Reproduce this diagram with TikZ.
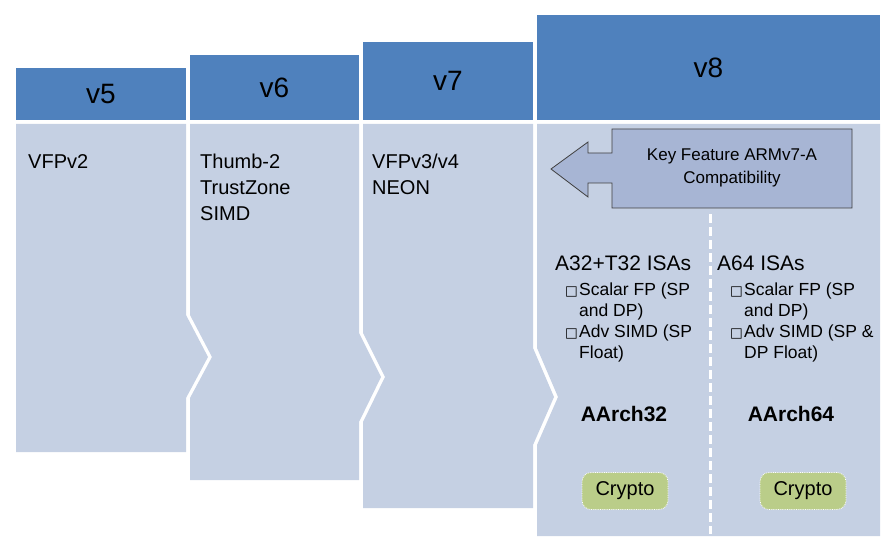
\documentclass[tikz,border=0pt]{standalone}
\usepackage{fontspec}
\setmainfont{Liberation Sans}
\newfontfamily\boxfont{DejaVu Sans}
\usepackage{tikz}
\usetikzlibrary{positioning}
\definecolor{hdrblue}{RGB}{79,129,189}
\definecolor{bodyblue}{RGB}{197,208,227}
\definecolor{arrowblue}{RGB}{167,181,212}
\definecolor{cryptogreen}{RGB}{186,205,137}
\tikzstyle{header}=[fill=hdrblue,inner sep=0pt,font=\fontsize{28}{30}\selectfont]
\tikzstyle{body}=[fill=bodyblue]
\tikzstyle{feature}=[anchor=north west,inner sep=0pt,align=left,font=\fontsize{20}{26}\selectfont]
\tikzset{isa/.style={anchor=north west,inner sep=0pt,font=\fontsize{21}{25}\selectfont},
  bullets/.style={anchor=north west,inner sep=0pt,align=left,font=\fontsize{17.5}{21}\selectfont},
  arch/.style={inner sep=0pt,font=\bfseries\fontsize{21}{25}\selectfont},
  crypto/.style={fill=cryptogreen,draw=white,densely dotted,line width=0.8pt,rounded corners=9pt,
    minimum width=86,minimum height=37,inner sep=0pt,font=\fontsize{20}{24}\selectfont}}
\newcommand{\sqbox}{\makebox[14pt][l]{\boxfont\fontsize{13.5}{13.5}\selectfont □}}

\begin{document}
\begin{tikzpicture}[x=1pt,y=-1pt]
    \useasboundingbox (0,0) rectangle (889,545);

    % 1. Column bodies, each one with its chevron
    \fill[body] (16,124) -- (186,124) -- (186,315) -- (208,357) -- (186,398) -- (186,452) -- (16,452) -- cycle;
    \fill[body] (190,124) -- (359,124) -- (359,333) -- (381,377) -- (359,422) -- (359,480)
      -- (190,480) -- (190,398) -- (212,357) -- (190,315) -- cycle;
    \fill[body] (363,124) -- (533,124) -- (533,348) -- (554,397) -- (533,445) -- (533,508)
      -- (363,508) -- (363,422) -- (385,377) -- (363,333) -- cycle;
    \fill[body] (537,124) -- (880,124) -- (880,536) -- (537,536) -- (537,445) -- (558,397) -- (537,348) -- cycle;

    % 2. Headers
    \node[header,minimum width=170,minimum height=52] (v5) at (101,94) {v5};
    \node[header,minimum width=169,minimum height=65] (v6) at (274.5,87.5) {v6};
    \node[header,minimum width=170,minimum height=78] (v7) at (448,81) {v7};
    \node[header,minimum width=343,minimum height=105] (v8) at (708.5,67.5) {v8};

    % 3. Features of the older versions
    \node[feature] (feat5) at (28,154) {VFPv2};
    \node[feature] (feat6) at (200,154) {Thumb-2\\TrustZone\\SIMD};
    \node[feature] (feat7) at (372,154) {VFPv3/v4\\NEON};

    % 4. Compatibility arrow
    \filldraw[fill=arrowblue,draw=black!75,line width=0.8pt] (551,169) -- (588,142) -- (588,153) -- (612,153)
      -- (612,129) -- (852,129) -- (852,208) -- (612,208) -- (612,183) -- (588,183) -- (588,197) -- cycle;
    \node[align=center,font=\fontsize{17}{23}\selectfont] (key) at (732,168) {Key Feature ARMv7-A\\Compatibility};

    % 5. Split between the two execution states
    \coordinate (splittop) at (710,214);
    \coordinate (splitbot) at (710,534);
    \draw[white,line width=3pt,dash pattern=on 9pt off 4pt] (splittop) -- (splitbot);

    % 6. ISAs
    \node[isa] (isa32) at (555,256) {A32+T32 ISAs};
    \node[isa] (isa64) at (717,256) {A64 ISAs};
    \node[bullets] (list32) at (565,283) {\sqbox Scalar FP (SP\\\hspace*{14pt}and DP)\\\sqbox Adv SIMD (SP\\\hspace*{14pt}Float)};
    \node[bullets] (list64) at (730,283) {\sqbox Scalar FP (SP\\\hspace*{14pt}and DP)\\\sqbox Adv SIMD (SP \&\\\hspace*{14pt}DP Float)};

    \node[arch] (aarch32) at (624,414) {AArch32};
    \node[arch] (aarch64) at (791,414) {AArch64};

    \node[crypto] (crypto32) at (625,491) {Crypto};
    \node[crypto] (crypto64) at (803,491) {Crypto};
\end{tikzpicture}
\end{document}
